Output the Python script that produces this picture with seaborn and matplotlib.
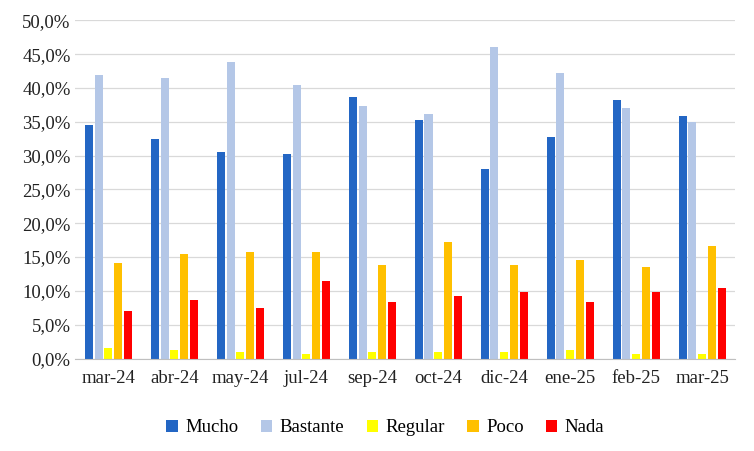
import matplotlib
matplotlib.use("Agg")
import matplotlib.pyplot as plt
import seaborn as sns
import pandas as pd
from matplotlib.ticker import FuncFormatter

months = ["mar-24","abr-24","may-24","jul-24","sep-24","oct-24","dic-24","ene-25","feb-25","mar-25"]
mucho    = [34.5,32.4,30.5,30.3,38.6,35.2,28.0,32.8,38.2,35.9]
bastante = [41.9,41.4,43.9,40.4,37.4,36.2,46.0,42.2,37.0,34.9]
regular  = [1.6,1.2,1.0,0.7,0.9,0.9,0.9,1.3,0.6,0.7]
poco     = [14.1,15.4,15.8,15.8,13.8,17.2,13.9,14.5,13.6,16.7]
nada     = [7.1,8.6,7.4,11.5,8.3,9.2,9.9,8.3,9.8,10.4]
series = {"Mucho":mucho,"Bastante":bastante,"Regular":regular,"Poco":poco,"Nada":nada}
colors = ["#2366C4","#B4C7E7","#FFFF00","#FFC000","#FF0000"]

rows = [(m, s, v) for s, vals in series.items() for m, v in zip(months, vals)]
df = pd.DataFrame(rows, columns=["mes","serie","valor"])

plt.rcParams["font.family"] = "Liberation Serif"
fig, ax = plt.subplots(figsize=(7.54,4.51), dpi=100)
fig.subplots_adjust(left=0.1, right=0.975, top=0.955, bottom=0.205)
sns.barplot(data=df, x="mes", y="valor", hue="serie", palette=colors,
            width=0.74, gap=0.18, ax=ax, saturation=1)
ax.set_ylim(0,50)
ax.set_yticks(range(0,51,5))
ax.yaxis.set_major_formatter(FuncFormatter(lambda v,p: f"{v:.1f}%".replace(".",",")))
ax.grid(axis="y", color="#D9D9D9", lw=0.9)
ax.set_axisbelow(True)
for s in ["top","right","left"]:
    ax.spines[s].set_visible(False)
ax.spines["bottom"].set_color("#BFBFBF")
ax.tick_params(length=0, labelsize=13.5, colors="#222222")
ax.tick_params(axis="x", pad=8)
ax.set_xlabel(""); ax.set_ylabel("")
ax.legend(loc="upper center", bbox_to_anchor=(0.47,-0.13), ncol=5, frameon=False,
          fontsize=13.5, handlelength=0.6, handleheight=0.6, columnspacing=1.2, handletextpad=0.4)
fig.savefig("out.png")
